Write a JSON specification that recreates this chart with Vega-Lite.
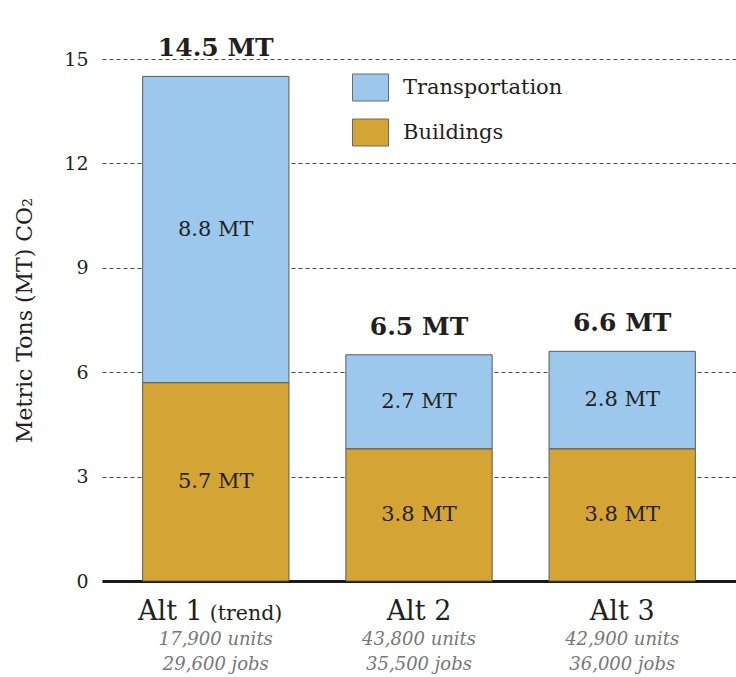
{
  "$schema": "https://vega.github.io/schema/vega-lite/v6.json",
  "width": 634,
  "height": 522,
  "autosize": {"type": "none"},
  "padding": {"left": 102, "top": 59, "right": 0, "bottom": 96},
  "background": "white",
  "datasets": {
    "segments": [
      {"alt": "Alt 1", "source": "Buildings", "value": 5.7, "label": "5.7 MT"},
      {"alt": "Alt 1", "source": "Transportation", "value": 8.8, "label": "8.8 MT"},
      {"alt": "Alt 2", "source": "Buildings", "value": 3.8, "label": "3.8 MT"},
      {"alt": "Alt 2", "source": "Transportation", "value": 2.7, "label": "2.7 MT"},
      {"alt": "Alt 3", "source": "Buildings", "value": 3.8, "label": "3.8 MT"},
      {"alt": "Alt 3", "source": "Transportation", "value": 2.8, "label": "2.8 MT"}
    ],
    "totals": [
      {"alt": "Alt 1", "total": 14.5, "label": "14.5 MT"},
      {"alt": "Alt 2", "total": 6.5, "label": "6.5 MT"},
      {"alt": "Alt 3", "total": 6.6, "label": "6.6 MT"}
    ],
    "captions": [
      {"alt": "Alt 1", "name": "Alt 1", "note": "(trend)", "units": "17,900 units", "jobs": "29,600 jobs"},
      {"alt": "Alt 2", "name": "Alt 2", "note": "", "units": "43,800 units", "jobs": "35,500 jobs"},
      {"alt": "Alt 3", "name": "Alt 3", "note": "", "units": "42,900 units", "jobs": "36,000 jobs"}
    ]
  },
  "layer": [
    {
      "data": {"name": "segments"},
      "transform": [
        {"stack": "value", "groupby": ["alt"], "sort": [{"field": "source", "order": "ascending"}], "as": ["s0", "s1"]}
      ],
      "mark": {"type": "bar", "stroke": "#5a5a5a", "strokeWidth": 1},
      "encoding": {
        "x": {"field": "alt", "type": "nominal", "title": null,
              "scale": {"paddingInner": 0.28, "paddingOuter": 0.2}},
        "y": {"field": "s1", "type": "quantitative", "title": "Metric Tons (MT) CO₂",
              "scale": {"domain": [0, 15], "nice": false},
              "axis": {"values": [0, 3, 6, 9, 12, 15]}},
        "y2": {"field": "s0"},
        "color": {
          "field": "source", "type": "nominal",
          "scale": {"domain": ["Transportation", "Buildings"], "range": ["#9BC8EC", "#D4A535"]},
          "legend": {
            "title": null,
            "orient": "none",
            "legendX": 250,
            "legendY": 10,
            "symbolType": "M-1,-0.75H1V0.75H-1Z",
            "symbolSize": 1296,
            "symbolStrokeColor": "#6a6a6a",
            "symbolStrokeWidth": 1,
            "symbolOpacity": 1,
            "labelFont": "DejaVu Serif",
            "labelFontSize": 21,
            "labelLimit": 400,
            "labelColor": "#231f20",
            "labelOffset": 14,
            "rowPadding": 11,
            "padding": 0
          }
        }
      }
    },
    {
      "data": {"name": "segments"},
      "transform": [
        {"stack": "value", "groupby": ["alt"], "sort": [{"field": "source", "order": "ascending"}], "as": ["s0", "s1"]},
        {"fold": ["s0", "s1"], "as": ["edge", "level"]},
        {"aggregate": [{"op": "mean", "field": "level", "as": "mid"}], "groupby": ["alt", "source", "label"]}
      ],
      "mark": {"type": "text", "font": "DejaVu Serif", "fontSize": 21, "color": "#231f20", "baseline": "middle"},
      "encoding": {
        "x": {"field": "alt", "type": "nominal", "title": null},
        "y": {"field": "mid", "type": "quantitative", "title": "Metric Tons (MT) CO₂",
              "axis": {"values": [0, 3, 6, 9, 12, 15]}},
        "text": {"field": "label"}
      }
    },
    {
      "data": {"name": "totals"},
      "mark": {"type": "text", "font": "DejaVu Serif", "fontSize": 25, "fontWeight": "bold", "color": "#231f20", "baseline": "alphabetic", "dy": -20},
      "encoding": {
        "x": {"field": "alt", "type": "nominal", "title": null},
        "y": {"field": "total", "type": "quantitative", "title": "Metric Tons (MT) CO₂",
              "axis": {"values": [0, 3, 6, 9, 12, 15]}},
        "text": {"field": "label"}
      }
    },
    {
      "data": {"name": "captions"},
      "transform": [{"filter": "datum.note === ''"}],
      "mark": {"type": "text", "font": "DejaVu Serif", "fontSize": 27, "color": "#231f20", "baseline": "alphabetic", "dy": 39},
      "encoding": {
        "x": {"field": "alt", "type": "nominal", "title": null},
        "y": {"datum": 0, "type": "quantitative", "title": "Metric Tons (MT) CO₂",
              "axis": {"values": [0, 3, 6, 9, 12, 15]}},
        "text": {"field": "name"}
      }
    },
    {
      "data": {"name": "captions"},
      "transform": [{"filter": "datum.note !== ''"}],
      "mark": {"type": "text", "font": "DejaVu Serif", "fontSize": 27, "color": "#231f20", "baseline": "alphabetic", "align": "right", "dy": 39, "dx": -13},
      "encoding": {
        "x": {"field": "alt", "type": "nominal", "title": null},
        "y": {"datum": 0, "type": "quantitative", "title": "Metric Tons (MT) CO₂",
              "axis": {"values": [0, 3, 6, 9, 12, 15]}},
        "text": {"field": "name"}
      }
    },
    {
      "data": {"name": "captions"},
      "transform": [{"filter": "datum.note !== ''"}],
      "mark": {"type": "text", "font": "DejaVu Serif", "fontSize": 20.5, "color": "#231f20", "baseline": "alphabetic", "align": "left", "dy": 39, "dx": -6},
      "encoding": {
        "x": {"field": "alt", "type": "nominal", "title": null},
        "y": {"datum": 0, "type": "quantitative", "title": "Metric Tons (MT) CO₂",
              "axis": {"values": [0, 3, 6, 9, 12, 15]}},
        "text": {"field": "note"}
      }
    },
    {
      "data": {"name": "captions"},
      "mark": {"type": "text", "font": "DejaVu Serif", "fontSize": 18, "fontStyle": "italic", "color": "#777777", "baseline": "alphabetic", "dy": 64},
      "encoding": {
        "x": {"field": "alt", "type": "nominal", "title": null},
        "y": {"datum": 0, "type": "quantitative", "title": "Metric Tons (MT) CO₂",
              "axis": {"values": [0, 3, 6, 9, 12, 15]}},
        "text": {"field": "units"}
      }
    },
    {
      "data": {"name": "captions"},
      "mark": {"type": "text", "font": "DejaVu Serif", "fontSize": 18, "fontStyle": "italic", "color": "#777777", "baseline": "alphabetic", "dy": 89},
      "encoding": {
        "x": {"field": "alt", "type": "nominal", "title": null},
        "y": {"datum": 0, "type": "quantitative", "title": "Metric Tons (MT) CO₂",
              "axis": {"values": [0, 3, 6, 9, 12, 15]}},
        "text": {"field": "jobs"}
      }
    }
  ],
  "config": {
    "view": {"stroke": null},
    "font": "DejaVu Serif",
    "axisX": {
      "labels": false,
      "ticks": false,
      "grid": false,
      "domainColor": "#1a1a1a",
      "domainWidth": 3,
      "zindex": 1
    },
    "axisY": {
      "domain": false,
      "ticks": false,
      "grid": true,
      "gridColor": "#4a4a4a",
      "gridDash": [4, 3],
      "gridWidth": 1,
      "labelFont": "DejaVu Serif",
      "labelFontSize": 19,
      "labelColor": "#231f20",
      "labelPadding": 14,
      "titleFont": "DejaVu Serif",
      "titleFontSize": 22,
      "titleFontWeight": "normal",
      "titleColor": "#231f20",
      "titlePadding": 27
    }
  }
}
